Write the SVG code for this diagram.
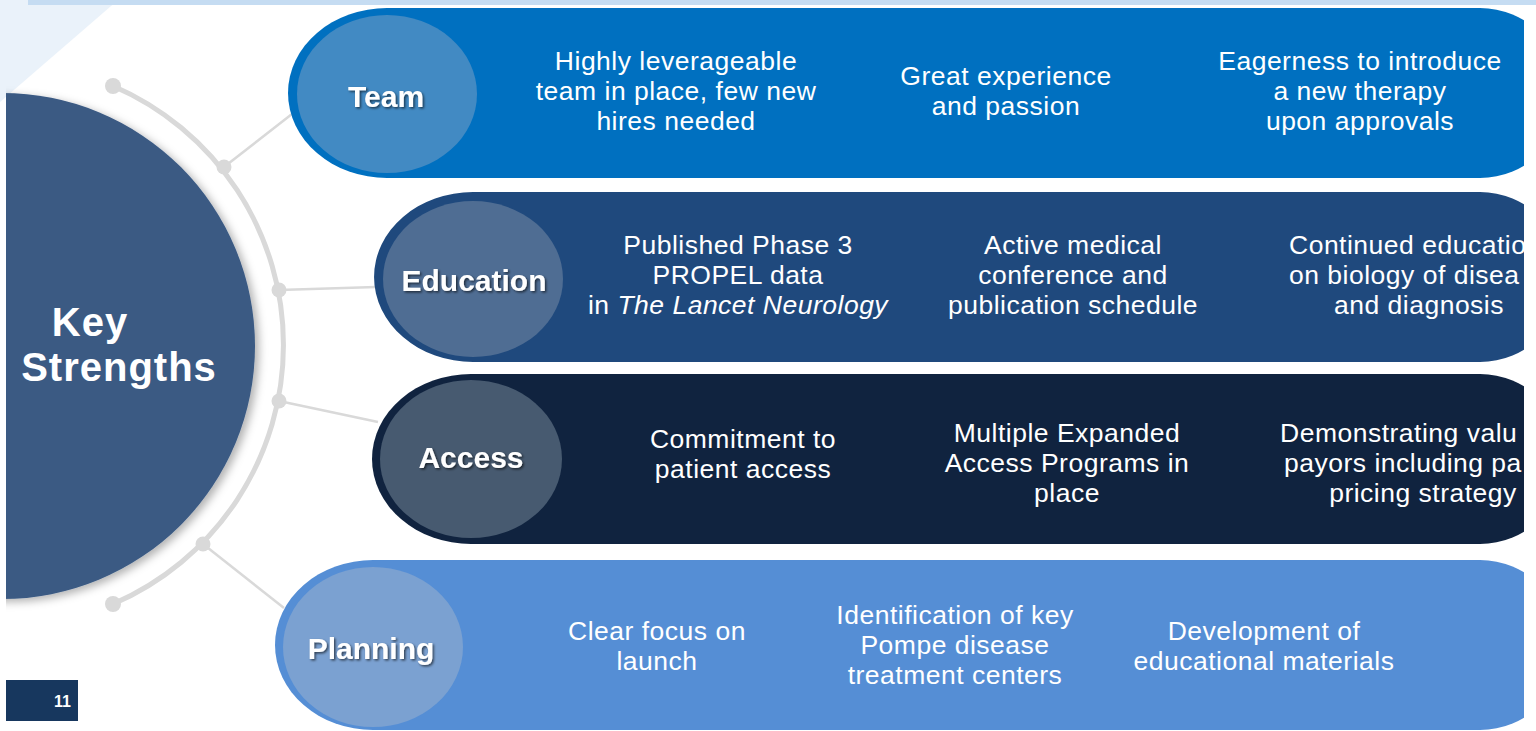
<svg xmlns="http://www.w3.org/2000/svg" width="1536" height="731" viewBox="0 0 1536 731">
  <defs>
    <clipPath id="slide">
      <rect x="6" y="0" width="1518" height="731"/>
    </clipPath>
    <filter id="circleShadow" x="-20%" y="-20%" width="140%" height="140%">
      <feDropShadow dx="4" dy="3" stdDeviation="4" flood-color="#000" flood-opacity="0.3"/>
    </filter>
    <filter id="labelShadow" x="-10%" y="-30%" width="120%" height="160%">
      <feDropShadow dx="1.5" dy="1.5" stdDeviation="1" flood-color="#000" flood-opacity="0.6"/>
    </filter>
    <style>
      .body { font-family: "Liberation Sans", Arial, sans-serif; font-size: 26.5px; letter-spacing: 0.5px; fill: #ffffff; text-anchor: middle; }
      .clipped { text-anchor: start; }
      .label { font-family: "Liberation Sans", Arial, sans-serif; font-weight: bold; font-size: 30px; fill: #ffffff; text-anchor: middle; }
      .title { font-family: "Liberation Sans", Arial, sans-serif; font-weight: bold; font-size: 40px; letter-spacing: 1px; fill: #ffffff; text-anchor: middle; }
      .rail { fill: none; stroke: #D9D9D9; stroke-width: 5; }
      .spoke { stroke: #D9D9D9; stroke-width: 2.5; }
      .dot { fill: #D9D9D9; }
    </style>
  </defs>

  <!-- page background -->
  <rect width="1536" height="731" fill="#ffffff"/>
  <polygon points="0,0 118,0 0,102" fill="#EAF2FA"/>
  <rect x="28" y="0" width="1508" height="5" fill="#C5DCF2"/>

  <g clip-path="url(#slide)">
    <!-- connectors: rail around the hub and spokes to each topic -->
    <g id="connectors">
      <path class="rail" d="M113,86 A282,282 0 0 1 113,604"/>
      <circle class="dot" cx="113" cy="86" r="8"/>
      <circle class="dot" cx="113" cy="604" r="8"/>
      <line class="spoke" x1="224" y1="167" x2="292" y2="114"/>
      <line class="spoke" x1="279" y1="290" x2="376" y2="287"/>
      <line class="spoke" x1="279" y1="401" x2="378" y2="422"/>
      <line class="spoke" x1="203" y1="544" x2="284" y2="608"/>
      <circle class="dot" cx="224" cy="167" r="7.5"/>
      <circle class="dot" cx="279" cy="290" r="7.5"/>
      <circle class="dot" cx="279" cy="401" r="7.5"/>
      <circle class="dot" cx="203" cy="544" r="7.5"/>
    </g>

    <!-- hub -->
    <g id="hub">
      <circle cx="2" cy="346" r="253" fill="#3B5A83" filter="url(#circleShadow)"/>
      <text class="title"><tspan x="90" y="336">Key</tspan><tspan x="119" y="381">Strengths</tspan></text>
    </g>

    <!-- Team -->
    <g id="team">
      <path d="M387,8 H1480 A85,85 0 0 1 1480,178 H387 A99,85 0 0 1 387,8 Z" fill="#0070C0"/>
      <ellipse cx="387" cy="94" rx="90" ry="79" fill="#428AC3"/>
      <text class="label" x="386" y="107" filter="url(#labelShadow)">Team</text>
      <text class="body"><tspan x="676" y="70">Highly leverageable</tspan><tspan x="676" y="100">team in place, few new</tspan><tspan x="676" y="130">hires needed</tspan></text>
      <text class="body"><tspan x="1006" y="85">Great experience</tspan><tspan x="1006" y="115">and passion</tspan></text>
      <text class="body"><tspan x="1360" y="70">Eagerness to introduce</tspan><tspan x="1360" y="100">a new therapy</tspan><tspan x="1360" y="130">upon approvals</tspan></text>
    </g>

    <!-- Education -->
    <g id="education">
      <path d="M473,192 H1480 A85,85 0 0 1 1480,362 H473 A99,85 0 0 1 473,192 Z" fill="#1F497D"/>
      <ellipse cx="473" cy="279" rx="90" ry="78" fill="#4F6D93"/>
      <text class="label" x="474" y="291" filter="url(#labelShadow)">Education</text>
      <text class="body"><tspan x="738" y="254">Published Phase 3</tspan><tspan x="738" y="284">PROPEL data</tspan><tspan x="738" y="314">in <tspan font-style="italic">The Lancet Neurology</tspan></tspan></text>
      <text class="body"><tspan x="1073" y="254">Active medical</tspan><tspan x="1073" y="284">conference and</tspan><tspan x="1073" y="314">publication schedule</tspan></text>
      <text class="body"><tspan class="clipped" x="1289" y="254">Continued educatio</tspan><tspan class="clipped" x="1289" y="284">on biology of disea</tspan><tspan x="1419" y="314">and diagnosis</tspan></text>
    </g>

    <!-- Access -->
    <g id="access">
      <path d="M471,374 H1480 A85,85 0 0 1 1480,544 H471 A99,85 0 0 1 471,374 Z" fill="#10233F"/>
      <ellipse cx="471" cy="459" rx="91" ry="79" fill="#475A70"/>
      <text class="label" x="471" y="468" filter="url(#labelShadow)">Access</text>
      <text class="body"><tspan x="743" y="448">Commitment to</tspan><tspan x="743" y="478">patient access</tspan></text>
      <text class="body"><tspan x="1067" y="442">Multiple Expanded</tspan><tspan x="1067" y="472">Access Programs in</tspan><tspan x="1067" y="502">place</tspan></text>
      <text class="body"><tspan class="clipped" x="1280" y="442">Demonstrating valu</tspan><tspan class="clipped" x="1284" y="472">payors including pa</tspan><tspan x="1423" y="502">pricing strategy</tspan></text>
    </g>

    <!-- Planning -->
    <g id="planning">
      <path d="M373,560 H1480 A85,85 0 0 1 1480,730 H373 A98,85 0 0 1 373,560 Z" fill="#558ED5"/>
      <ellipse cx="373" cy="647" rx="90" ry="80" fill="#7BA1D1"/>
      <text class="label" x="371" y="659" filter="url(#labelShadow)">Planning</text>
      <text class="body"><tspan x="657" y="640">Clear focus on</tspan><tspan x="657" y="670">launch</tspan></text>
      <text class="body"><tspan x="955" y="624">Identification of key</tspan><tspan x="955" y="654">Pompe disease</tspan><tspan x="955" y="684">treatment centers</tspan></text>
      <text class="body"><tspan x="1264" y="640">Development of</tspan><tspan x="1264" y="670">educational materials</tspan></text>
    </g>
  </g>

  <!-- slide number -->
  <g id="page-number">
    <rect x="6" y="680" width="72" height="41" fill="#17375E"/>
    <text x="71" y="707" font-family="Liberation Sans, Arial, sans-serif" font-weight="bold" font-size="16" fill="#ffffff" text-anchor="end">11</text>
  </g>
</svg>
